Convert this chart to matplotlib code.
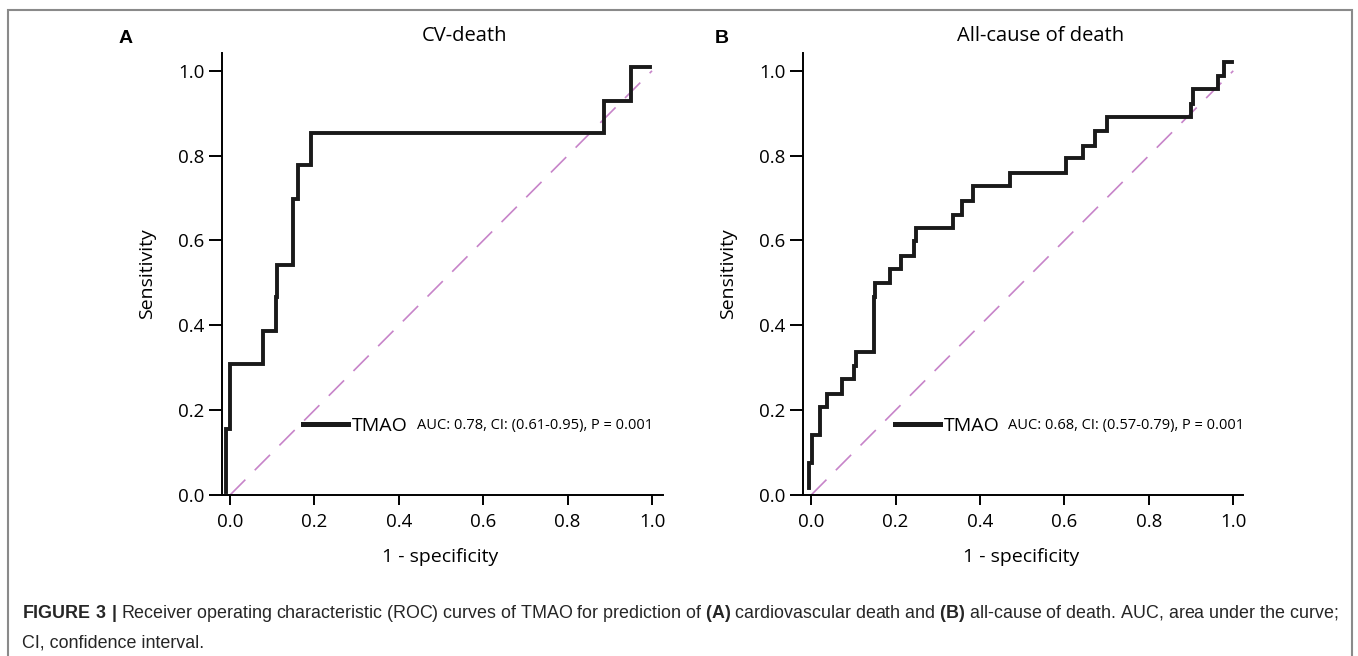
import matplotlib.pyplot as plt
from matplotlib.patches import Rectangle

# ROC step corners (1 - specificity, sensitivity)
cv_fpr = [-0.009, 0.0, 0.077, 0.109, 0.112, 0.149, 0.160, 0.193, 0.887, 0.951, 0.996]
cv_tpr = [0.008, 0.155, 0.309, 0.387, 0.466, 0.542, 0.697, 0.778, 0.853, 0.929, 1.008]

all_fpr = [-0.004, 0.003, 0.021, 0.037, 0.073, 0.102, 0.107, 0.148, 0.152, 0.187,
           0.212, 0.244, 0.249, 0.335, 0.357, 0.383, 0.470, 0.604, 0.645, 0.673,
           0.700, 0.899, 0.904, 0.965, 0.979, 0.998]
all_tpr = [0.016, 0.075, 0.142, 0.208, 0.237, 0.273, 0.304, 0.337, 0.466, 0.499,
           0.532, 0.564, 0.598, 0.629, 0.660, 0.693, 0.729, 0.760, 0.794, 0.823,
           0.858, 0.891, 0.922, 0.957, 0.988, 1.020]

ref_x = [0, 1]
ref_y = [0, 1]

ticks = [0.0, 0.2, 0.4, 0.6, 0.8, 1.0]
tick_labels = ['0.0', '0.2', '0.4', '0.6', '0.8', '1.0']

titles = ['CV-death', 'All-cause of death']
letters = ['A', 'B']
auc_text = ['AUC: 0.78, CI: (0.61-0.95), P = 0.001',
            'AUC: 0.68, CI: (0.57-0.79), P = 0.001']

plt.rcParams['font.family'] = ['Open Sans', 'DejaVu Sans']
plt.rcParams['mathtext.fontset'] = 'custom'
plt.rcParams['mathtext.rm'] = 'Liberation Sans'
plt.rcParams['mathtext.bf'] = 'Liberation Sans:bold'

fig = plt.figure(figsize=(13.58, 6.56), dpi=100, facecolor='w')

# light grey frame around the figure panel
fig.patches.append(Rectangle((0.0059, -0.2), 0.9897, 1.1848, transform=fig.transFigure,
                             fill=False, edgecolor='#8a8a8a', lw=1.5))

axes_pos = [[0.1635, 0.2454, 0.3247, 0.6738],
            [0.5911, 0.2454, 0.3245, 0.6738]]
xlims = [(-0.019, 1.026), (-0.020, 1.024)]
letter_x = [-0.218, -0.184]
title_x = [0.549, 0.54]
leg_x = [0.184, 0.2095]
auc_x = [0.442, 0.466]
data = [(cv_fpr, cv_tpr), (all_fpr, all_tpr)]

for i in range(2):
    ax = fig.add_axes(axes_pos[i])
    fpr, tpr = data[i]
    ax.plot(ref_x, ref_y, color='#c784c9', lw=1.2, dashes=(13, 8))
    ax.plot(fpr, tpr, color='#1a1a1a', lw=2.8, drawstyle='steps-pre', label='TMAO',
            solid_joinstyle='miter')

    ax.set_xlim(*xlims[i])
    ax.set_ylim(0, 1.042)
    ax.set_xticks(ticks)
    ax.set_xticklabels(tick_labels)
    ax.set_yticks(ticks)
    ax.set_yticklabels(tick_labels)
    ax.spines['top'].set_visible(False)
    ax.spines['right'].set_visible(False)
    ax.spines['left'].set_linewidth(1.4)
    ax.spines['bottom'].set_linewidth(1.4)
    ax.tick_params(axis='x', length=7, width=1.4, pad=6, labelsize=13.5)
    ax.tick_params(axis='y', length=9.5, width=1.4, pad=3, labelsize=13.5)

    ax.set_xlabel('1 - specificity', fontsize=14)
    ax.xaxis.set_label_coords(0.495, -0.140)
    ax.xaxis.label.set_va('center')
    ax.set_ylabel('Sensitivity', fontsize=14)
    ax.yaxis.set_label_coords(-0.170, 0.5)
    ax.yaxis.label.set_va('center')

    ax.text(title_x[i], 1.038, titles[i], transform=ax.transAxes, ha='center',
            va='center', fontsize=14.5)
    ax.text(letter_x[i], 1.032, letters[i], transform=ax.transAxes, ha='center',
            va='center', fontsize=14, fontweight='bold', family='Liberation Sans')

    leg = ax.legend(loc='center left', bbox_to_anchor=(leg_x[i], 0.156), frameon=False,
                    fontsize=14, handlelength=2.3, handletextpad=0.2, borderpad=0,
                    borderaxespad=0)
    leg.get_lines()[0].set_linewidth(3.6)
    ax.text(auc_x[i], 0.158, auc_text[i], transform=ax.transAxes, ha='left',
            va='center', fontsize=10.5)

cap1 = (r'$\mathbf{FIGURE\ 3\ |}$ Receiver operating characteristic (ROC) curves of TMAO '
        r'for prediction of $\mathbf{(A)}$ cardiovascular death and $\mathbf{(B)}$ '
        r'all-cause of death. AUC, area under the curve;')
cap2 = 'CI, confidence interval.'
fig.text(0.0162, 0.058, cap1, ha='left', va='baseline', fontsize=12.9,
         family='Liberation Sans', color='#262626')
fig.text(0.0162, 0.0137, cap2, ha='left', va='baseline', fontsize=12.9,
         family='Liberation Sans', color='#262626')

fig.savefig('out.png', dpi=100)
